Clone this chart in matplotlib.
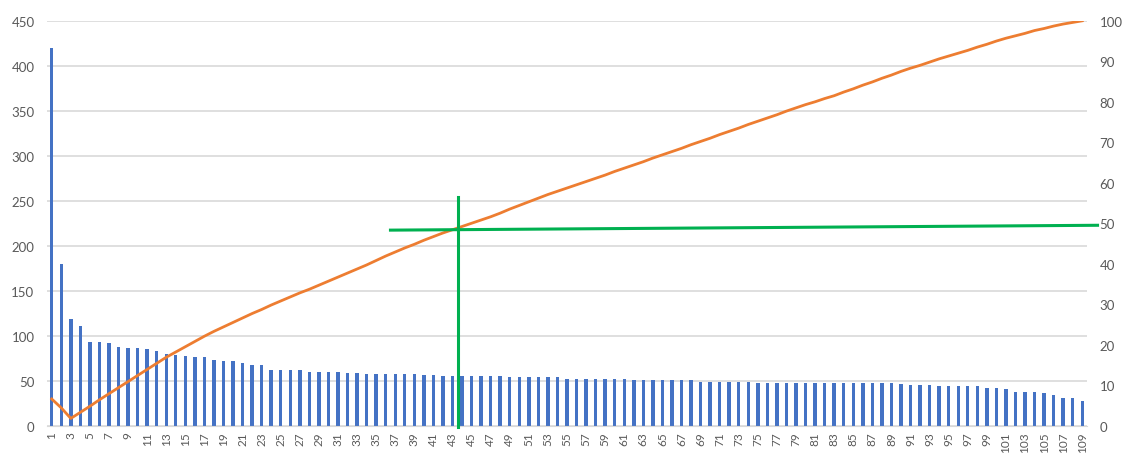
import numpy as np
import matplotlib
matplotlib.use("Agg")
import matplotlib.pyplot as plt

plt.rcParams['font.family'] = ['Lato', 'DejaVu Sans']

# bar values (left axis)
counts = [420, 180, 119, 111, 93, 93, 92, 88, 86, 86,
          85, 83, 80, 79, 77, 76, 76, 73, 72, 72,
          70, 68, 68, 62, 62, 62, 62, 60, 60, 60,
          60, 59, 59, 58, 58, 58, 58, 58, 58, 56,
          56, 55, 55, 55, 55, 55, 55, 55, 54, 54,
          54, 54, 54, 54, 52, 52, 52, 52, 52, 52,
          52, 51, 51, 51, 51, 51, 51, 51, 49, 49,
          49, 49, 49, 49, 48, 48, 48, 48, 48, 48,
          48, 48, 48, 48, 48, 48, 48, 48, 48, 46,
          45, 45, 45, 44, 44, 44, 44, 44, 42, 42,
          41, 38, 37, 37, 36, 34, 31, 31, 27]

# orange line (right axis, percent)
cum_pct = [6.6, 4.4, 1.8, 3.3, 4.8, 6.4, 7.9, 9.4, 10.9, 12.4,
           13.9, 15.4, 16.9, 18.2, 19.5, 20.8, 22.1, 23.3, 24.4, 25.5,
           26.6, 27.7, 28.7, 29.8, 30.8, 31.8, 32.8, 33.7, 34.7, 35.7,
           36.7, 37.7, 38.7, 39.7, 40.8, 41.9, 42.9, 43.9, 44.8, 45.8,
           46.7, 47.6, 48.4, 49.2, 50.0, 50.8, 51.6, 52.5, 53.5, 54.4,
           55.3, 56.2, 57.1, 57.9, 58.7, 59.5, 60.3, 61.1, 61.9, 62.8,
           63.6, 64.4, 65.2, 66.1, 66.9, 67.7, 68.5, 69.4, 70.2, 71.0,
           71.9, 72.7, 73.5, 74.4, 75.2, 76.0, 76.8, 77.7, 78.5, 79.3,
           80.0, 80.8, 81.5, 82.4, 83.2, 84.1, 84.9, 85.8, 86.6, 87.5,
           88.3, 89.0, 89.8, 90.6, 91.3, 92.0, 92.7, 93.5, 94.2, 95.0,
           95.7, 96.3, 96.9, 97.6, 98.1, 98.7, 99.2, 99.6, 100.0]

ranks = list(range(1, len(counts) + 1))
xlabels = [str(r) if r % 2 == 1 else '' for r in ranks]

# hand drawn green marker lines (x in ranks, y in percent)
cut_x = 43.55
cut_top = 56.5
h_x = [36.5, 110.6]
h_y = [48.3, 49.5]

fig = plt.figure(figsize=(11.26, 4.64), dpi=100)
ax = fig.add_axes([0.0417, 0.0804, 0.9237, 0.8726])

ax.bar(ranks, counts, width=0.36, color='#4472C4', zorder=2)
ax.set_xlim(0.5, 109.5)
ax.set_ylim(0, 450)
ax.set_yticks(range(0, 451, 50))
ax.grid(axis='y', color='#D9D9D9', linewidth=1.2, zorder=0)
ax.set_xticks(ranks)
ax.set_xticklabels(xlabels, rotation=90, fontsize=8.5, color='#595959')
ax.tick_params(axis='x', length=0, pad=4)
ax.tick_params(axis='y', length=0, pad=9, labelsize=9.5, labelcolor='#595959')
for s in ['top', 'left', 'right']:
    ax.spines[s].set_visible(False)
ax.spines['bottom'].set_color('#D9D9D9')

ax2 = ax.twinx()
ax2.plot(ranks, cum_pct, color='#ED7D31', linewidth=2.0, zorder=3)
ax2.set_ylim(0, 100)
ax2.set_yticks(range(0, 101, 10))
ax2.tick_params(axis='y', length=0, pad=9, labelsize=9.5, labelcolor='#595959')
for s in ['top', 'left', 'right', 'bottom']:
    ax2.spines[s].set_visible(False)

ax2.plot(h_x, h_y, color='#00B050', linewidth=2.2, clip_on=False, zorder=4)
ax2.plot([cut_x, cut_x], [-0.3, cut_top], color='#00B050', linewidth=2.2,
         clip_on=False, zorder=4)

fig.savefig('out.png', dpi=100)
